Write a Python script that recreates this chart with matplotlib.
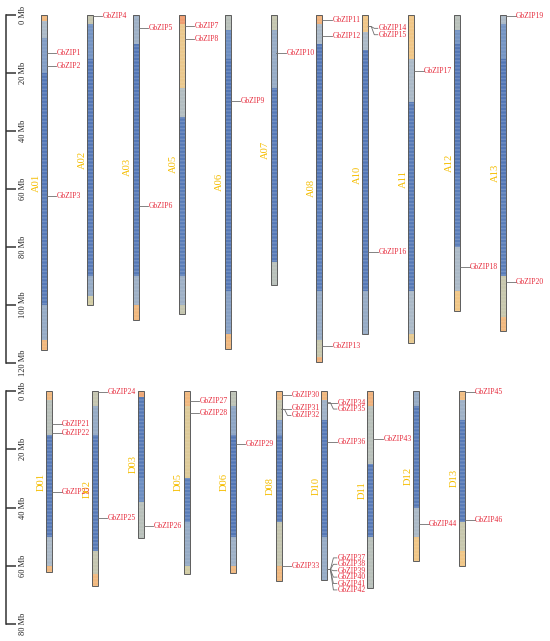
import numpy as np
import matplotlib
matplotlib.use('Agg')
import matplotlib.pyplot as plt
from matplotlib.colors import LinearSegmentedColormap

plt.rcParams['font.family'] = ['Liberation Serif', 'DejaVu Serif']
plt.rcParams['hatch.linewidth'] = 0.6

# chromosomes (Mb)
a_chroms = ['A01', 'A02', 'A03', 'A05', 'A06', 'A07', 'A08', 'A10', 'A11', 'A12', 'A13']
a_lengths = [115.5, 100, 105, 103, 115, 93, 119.5, 110, 113, 102, 109]
d_chroms = ['D01', 'D02', 'D03', 'D05', 'D06', 'D08', 'D10', 'D11', 'D12', 'D13']
d_lengths = [62.3, 67, 50.4, 62.7, 62.4, 65.4, 65, 67.8, 58.2, 60]

# gene density bands: (start, end, level), 0 = low (blue) ... 1 = high (red)
a_bands = [
    [(0, 2, .8), (2, 8, .45), (8, 20, .35), (20, 60, .1), (60, 100, .12), (100, 112, .4), (112, 115.5, .8)],
    [(0, 3, .55), (3, 15, .32), (15, 60, .1), (60, 90, .12), (90, 97, .4), (97, 100, .6)],
    [(0, 10, .42), (10, 60, .1), (60, 90, .12), (90, 100, .42), (100, 105, .8)],
    [(0, 3, .88), (3, 25, .72), (25, 35, .48), (35, 60, .12), (60, 90, .14), (90, 100, .42), (100, 103, .55)],
    [(0, 5, .5), (5, 15, .3), (15, 60, .1), (60, 95, .12), (95, 110, .36), (110, 115, .8)],
    [(0, 5, .55), (5, 25, .4), (25, 60, .12), (60, 85, .12), (85, 93, .5)],
    [(0, 3, .82), (3, 10, .45), (10, 60, .1), (60, 95, .14), (95, 112, .4), (112, 118, .56), (118, 119.5, .82)],
    [(0, 6, .75), (6, 12, .45), (12, 60, .1), (60, 95, .12), (95, 110, .4)],
    [(0, 15, .75), (15, 30, .45), (30, 60, .12), (60, 95, .12), (95, 110, .45), (110, 113, .7)],
    [(0, 5, .5), (5, 10, .32), (10, 55, .1), (55, 80, .14), (80, 95, .45), (95, 102, .75)],
    [(0, 3, .45), (3, 15, .32), (15, 60, .1), (60, 90, .14), (90, 104, .56), (104, 109, .8)],
]
d_bands = [
    [(0, 3, .8), (3, 15, .5), (15, 50, .12), (50, 60, .45), (60, 62.3, .8)],
    [(0, 5, .55), (5, 15, .4), (15, 55, .12), (55, 63, .55), (63, 67, .8)],
    [(0, 2, .85), (2, 30, .12), (30, 38, .3), (38, 50.4, .5)],
    [(0, 5, .8), (5, 30, .66), (30, 45, .14), (45, 60, .4), (60, 62.7, .6)],
    [(0, 5, .52), (5, 15, .38), (15, 50, .1), (50, 60, .42), (60, 62.4, .8)],
    [(0, 3, .8), (3, 10, .55), (10, 15, .35), (15, 45, .12), (45, 60, .55), (60, 65.4, .8)],
    [(0, 3, .8), (3, 10, .42), (10, 50, .12), (50, 65, .4)],
    [(0, 5, .82), (5, 25, .5), (25, 50, .12), (50, 67.8, .5)],
    [(0, 5, .4), (5, 40, .12), (40, 50, .45), (50, 58.2, .75)],
    [(0, 3, .78), (3, 10, .42), (10, 45, .12), (45, 55, .56), (55, 60, .75)],
]

# genes: name, chromosome, position (Mb), label position (Mb)
a_genes = ['GbZIP1', 'GbZIP2', 'GbZIP3', 'GbZIP4', 'GbZIP5', 'GbZIP6', 'GbZIP7', 'GbZIP8',
           'GbZIP9', 'GbZIP10', 'GbZIP11', 'GbZIP12', 'GbZIP13', 'GbZIP14', 'GbZIP15',
           'GbZIP16', 'GbZIP17', 'GbZIP18', 'GbZIP19', 'GbZIP20']
a_gene_chr = ['A01', 'A01', 'A01', 'A02', 'A03', 'A03', 'A05', 'A05', 'A06', 'A07', 'A08',
              'A08', 'A08', 'A10', 'A10', 'A10', 'A11', 'A12', 'A13', 'A13']
a_gene_pos = [13.2, 17.6, 62.3, 0.3, 4.6, 65.9, 3.8, 8.4, 29.7, 13.0, 1.6,
              7.1, 114.0, 4.0, 4.0, 81.7, 19.2, 86.8, 0.3, 92.0]
a_label_pos = [13.2, 17.6, 62.3, 0.3, 4.6, 65.9, 3.8, 8.4, 29.7, 13.0, 1.6,
               7.1, 114.0, 4.6, 6.8, 81.7, 19.2, 86.8, 0.3, 92.0]

d_genes = ['GbZIP21', 'GbZIP22', 'GbZIP23', 'GbZIP24', 'GbZIP25', 'GbZIP26', 'GbZIP27',
           'GbZIP28', 'GbZIP29', 'GbZIP30', 'GbZIP31', 'GbZIP32', 'GbZIP33', 'GbZIP34',
           'GbZIP35', 'GbZIP36', 'GbZIP37', 'GbZIP38', 'GbZIP39', 'GbZIP40', 'GbZIP41',
           'GbZIP42', 'GbZIP43', 'GbZIP44', 'GbZIP45', 'GbZIP46']
d_gene_chr = ['D01', 'D01', 'D01', 'D02', 'D02', 'D03', 'D05', 'D05', 'D06', 'D08', 'D08',
              'D08', 'D08', 'D10', 'D10', 'D10', 'D10', 'D10', 'D10', 'D10', 'D10', 'D10',
              'D11', 'D12', 'D13', 'D13']
d_gene_pos = [11.4, 14.5, 34.8, 0.2, 43.6, 46.5, 3.3, 7.6, 18.2, 1.4, 6.3,
              6.3, 60.0, 4.0, 4.0, 17.5, 61.3, 61.3, 61.3, 61.3, 61.3,
              61.3, 16.4, 45.6, 0.2, 44.2]
d_label_pos = [11.4, 14.5, 34.8, 0.2, 43.6, 46.5, 3.3, 7.6, 18.2, 1.4, 6.0,
               8.4, 60.0, 4.0, 6.2, 17.5, 57.3, 59.5, 61.7, 63.9, 66.1,
               68.3, 16.4, 45.6, 0.2, 44.2]

cmap = LinearSegmentedColormap.from_list('dens', [
    (0.0, '#1d4a9e'), (0.3, '#5f84bd'), (0.45, '#a3b3c2'), (0.6, '#cdc79b'),
    (0.75, '#efc27c'), (0.9, '#ee8e5e'), (1.0, '#e4533c')])

W, H = 550, 641
SX = 45.9          # px per chromosome slot
GENE_RED = '#e62b3c'
NAME_GOLD = '#f5bd00'

fig = plt.figure(figsize=(W / 100, H / 100), dpi=100)


def px_rect(x0, y0, x1, y1):
    return [x0 / W, 1 - y1 / H, (x1 - x0) / W, (y1 - y0) / H]


def draw_panel(top, bottom, first_x, ymax, chroms, lengths, bands,
               genes, gene_chr, gene_pos, label_pos):
    ax = fig.add_axes(px_rect(0, top, W, bottom))
    ax.set_xlim(-first_x / SX, (W - first_x) / SX)
    ax.set_ylim(ymax, 0)
    ax.axis('off')
    cw = 6 / SX
    for i, (name, L, bl) in enumerate(zip(chroms, lengths, bands)):
        for s, e, v in bl:
            ax.bar(i, e - s, bottom=s, width=cw, color=cmap(v), linewidth=0)
            # light stripes inside the density track
            ax.bar(i, e - s, bottom=s, width=cw, fill=False, linewidth=0,
                   hatch='-' * 12, edgecolor=(1, 1, 1, 0.35 if v < 0.3 else 0.2))
        ax.bar(i, L, bottom=0, width=cw, fill=False, edgecolor='#5c5c5c', linewidth=0.7)
        ax.text(i - 3.5 / SX, L / 2, name, rotation=90, ha='right', va='center',
                color=NAME_GOLD, fontsize=7.6)
    for g, c, p, lp in zip(genes, gene_chr, gene_pos, label_pos):
        i = chroms.index(c)
        xs = [i + 3 / SX, i + 6 / SX, i + 9 / SX, i + 12.5 / SX]
        ys = [p, p, lp, lp]
        if abs(lp - p) < 0.3:
            xs, ys = [xs[0], xs[-1]], [p, p]
        ax.plot(xs, ys, color='#6e6e6e', linewidth=0.6, clip_on=False)
        ax.text(i + 13 / SX, lp, g, ha='left', va='center', color=GENE_RED, fontsize=5.5)

    # scale bar
    sb = fig.add_axes(px_rect(0, top, 5.5, bottom))
    sb.set_ylim(ymax, 0)
    sb.set_xticks([])
    for k in ['left', 'top', 'bottom']:
        sb.spines[k].set_visible(False)
    sb.spines['right'].set_color('#333333')
    sb.spines['right'].set_linewidth(1.1)
    sb.patch.set_alpha(0)
    sb.yaxis.tick_right()
    ticks = np.arange(0, ymax + 1, 20)
    sb.set_yticks(ticks)
    sb.set_yticklabels([f'{int(t)} Mb' for t in ticks], rotation=90, va='center')
    sb.tick_params(axis='y', length=7, width=1.1, color='#333333', pad=2.5,
                   labelsize=6, labelcolor='#222222')
    return ax


draw_panel(15, 363, 44, 120, a_chroms, a_lengths, a_bands,
           a_genes, a_gene_chr, a_gene_pos, a_label_pos)
draw_panel(391, 624, 49, 80, d_chroms, d_lengths, d_bands,
           d_genes, d_gene_chr, d_gene_pos, d_label_pos)

fig.savefig('out.png', dpi=100)
